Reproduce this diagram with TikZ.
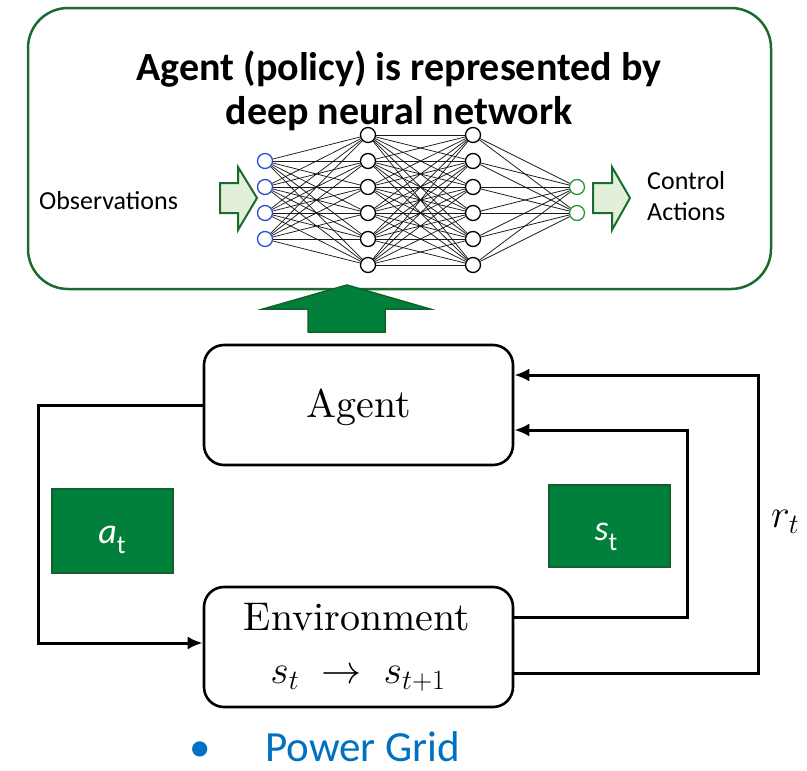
\RequirePackage{fix-cm}
\documentclass[tikz,border=0pt]{standalone}
\usepackage{fontspec}
\newfontfamily\calfont{Carlito}
\newfontfamily\cmten{lmroman10-regular}[Extension=.otf]
\usetikzlibrary{arrows.meta}
\definecolor{dkgreen}{RGB}{28,107,46}
\definecolor{boxgreen}{RGB}{0,128,58}
\definecolor{boxedge}{RGB}{20,96,42}
\definecolor{ltgreen}{RGB}{226,240,217}
\definecolor{inblue}{RGB}{40,80,210}
\definecolor{outgreen}{RGB}{40,150,60}
\definecolor{gridblue}{RGB}{0,112,192}
\tikzset{
  neuron/.style={circle,draw=black,fill=white,line width=1.3pt,minimum size=15pt,inner sep=0pt},
  synapse/.style={line width=0.75pt,black!90},
  rlbox/.style={draw=black,line width=2.6pt,rounded corners=20pt,minimum width=309pt,minimum height=120pt,inner sep=0pt},
  flow/.style={line width=3pt,-{Latex[length=15pt,width=13pt]}},
  greenbox/.style={fill=boxgreen,draw=boxedge,line width=2pt,inner sep=0pt},
  hollowarrow/.style={fill=ltgreen,draw=dkgreen,line width=2pt,line join=miter},
  cmtext/.style={font=\cmten\fontsize{40}{48}\selectfont,inner sep=0pt},
  caltext/.style={font=\calfont\fontsize{26}{30}\selectfont,inner sep=0pt},
}
\begin{document}
\begin{tikzpicture}[x=1pt,y=-1pt]
\useasboundingbox (0,0) rectangle (807,771);

% policy box
\node[draw=dkgreen,line width=2.5pt,rounded corners=40pt,minimum width=743pt,minimum height=281pt,inner sep=0pt] (policy) at (399.5,148.5) {};
\node[anchor=base,inner sep=0pt,font=\calfont\bfseries\fontsize{40}{45}\selectfont] (title1) at (399,80) {Agent (policy) is represented by};
\node[anchor=base,inner sep=0pt,font=\calfont\bfseries\fontsize{40}{45}\selectfont] (title2) at (399,124) {deep neural network};

% neural network
\foreach \k/\y in {1/161,2/187,3/213,4/239}
  \node[neuron,draw=inblue] (i\k) at (265,\y) {};
\foreach \k/\y in {1/135,2/161,3/187,4/213,5/239,6/265}{
  \node[neuron] (h\k) at (368,\y) {};
  \node[neuron] (g\k) at (473,\y) {};
}
\foreach \k/\y in {1/187,2/213}
  \node[neuron,draw=outgreen] (o\k) at (577,\y) {};
\foreach \a in {1,...,4}
  \foreach \b in {1,...,6}
    \draw[synapse] (i\a) -- (h\b);
\foreach \a in {1,...,6}
  \foreach \b in {1,...,6}
    \draw[synapse] (h\a) -- (g\b);
\foreach \a in {1,...,6}
  \foreach \b in {1,2}
    \draw[synapse] (g\a) -- (o\b);

% hollow arrows
\draw[hollowarrow] (220,183) -- (238,183) -- (238,167) -- (257,198) -- (238,230) -- (238,213) -- (220,213) -- cycle;
\draw[hollowarrow] (593,183) -- (612,183) -- (612,167) -- (630,198) -- (612,230) -- (612,213) -- (593,213) -- cycle;

\node[caltext,anchor=base west] (obs) at (39,209) {Observations};
\node[caltext,anchor=base west] (ctrl) at (647,189) {Control};
\node[caltext,anchor=base west] (act) at (647,220) {Actions};

% big up arrow
\draw[fill=boxgreen,draw=boxedge,line width=1.5pt,line join=miter] (347,285) -- (430,309) -- (385,309) -- (385,332) -- (308,332) -- (308,309) -- (263,309) -- cycle;

% RL loop
\node[rlbox] (agent) at (358.5,405) {};
\node[cmtext,anchor=base] (agenttxt) at (358.5,417) {Agent};
\node[rlbox] (env) at (358.5,647) {};
\node[cmtext,anchor=base] (envtxt) at (357,630) {Environment};
\node[cmtext,anchor=base] (envmath) at (358,683) {$s_t \;\rightarrow\; s_{t+1}$};

\draw[flow] (agent.west) -- ++(-164,0) |- ([yshift=4pt]env.west);
\draw[flow] ([yshift=30pt]env.east) -| ([xshift=173pt,yshift=-25pt]agent.east) -- ([yshift=-25pt]agent.east);
\draw[flow] ([yshift=-26pt]env.east) -| ([xshift=244pt,yshift=30pt]agent.east) -- ([yshift=30pt]agent.east);

\node[cmtext,anchor=base west] (rt) at (771,527) {$r_t$};

\node[greenbox,minimum width=121pt,minimum height=84pt] (abox) at (112.5,530.5) {};
\node[anchor=base,inner sep=0pt,text=white,font=\calfont\fontsize{36}{40}\selectfont] (atxt) at (112,543) {\itshape a\upshape\raisebox{-0.28em}{\fontsize{26}{30}\selectfont t}};
\node[greenbox,minimum width=121pt,minimum height=82pt] (sbox) at (609,526) {};
\node[anchor=base,inner sep=0pt,text=white,font=\calfont\fontsize{36}{40}\selectfont] (stxt) at (606,540) {\itshape s\upshape\raisebox{-0.28em}{\fontsize{26}{30}\selectfont t}};

% Power grid
\node[anchor=base,inner sep=0pt,text=gridblue,font=\calfont\fontsize{43}{48}\selectfont] (bullet) at (200,761) {•};
\node[anchor=base west,inner sep=0pt,text=gridblue,font=\calfont\fontsize{43}{48}\selectfont] (pg) at (265,761) {Power Grid};
\end{tikzpicture}
\end{document}
